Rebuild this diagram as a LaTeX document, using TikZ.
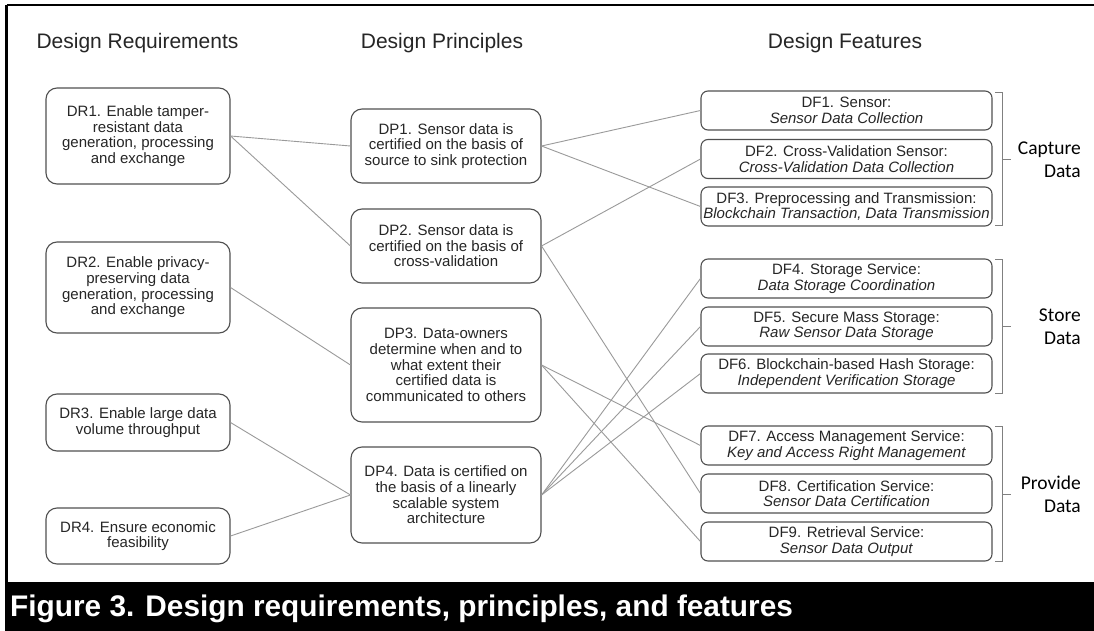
\documentclass[tikz,border=0pt]{standalone}
\usepackage{fontspec}
\setmainfont{Liberation Sans}
\newfontfamily\carlitofont{Carlito}
\definecolor{boxgray}{HTML}{505050}
\definecolor{linegray}{HTML}{9A9A9A}
\definecolor{txtcol}{HTML}{262626}
\newcommand{\boxfont}{\fontsize{15}{15.6}\selectfont}
\newcommand{\titlefont}{\fontsize{21}{24}\selectfont}
\newcommand{\capfont}{\fontsize{29.8}{32}\selectfont\bfseries}
\newcommand{\labfont}{\carlitofont\fontsize{19.5}{23}\selectfont}
\tikzset{
  rbox/.style={draw=boxgray, line width=1.1pt, rounded corners=11pt, align=center,
    font=\boxfont, text=txtcol, inner sep=0pt, minimum width=190pt},
  drbox/.style={rbox, minimum width=184pt},
  fbox/.style={draw=boxgray, line width=1.1pt, rounded corners=7pt, align=center,
    font=\boxfont, text=txtcol, inner sep=0pt, minimum width=291pt, minimum height=39pt},
  conn/.style={draw=linegray, line width=0.9pt},
  brk/.style={draw=gray, line width=0.8pt},
  ttl/.style={font=\titlefont, text=txtcol, anchor=base, inner sep=0pt},
  lab/.style={font=\labfont, text=black, align=right, anchor=east, inner sep=0pt}
}
\begin{document}
\begin{tikzpicture}[x=1pt,y=-1pt]
\useasboundingbox (0,0) rectangle (1094,631);
% frame and caption bar
\fill[white] (0,0) rectangle (1094,631);
\draw[line width=2.6pt] (6.5,5) -- (1100,5);
\draw[line width=3pt] (6.5,5) -- (6.5,583);
\fill[black] (5,582) rectangle (1100,640);
\node[anchor=base west, text=white, font=\capfont, inner sep=0pt] (cap) at (10,616)
  {Figure 3. Design requirements, principles, and features};
% titles
\node[ttl] (t1) at (137.5,49) {Design Requirements};
\node[ttl] (t2) at (442,49) {Design Principles};
\node[ttl] (t3) at (845,49) {Design Features};
% requirements
\node[drbox, minimum height=96pt] (dr1) at (138,136) {DR1. Enable tamper-\\resistant data\\generation, processing\\and exchange};
\node[drbox, minimum height=91pt] (dr2) at (138,287.5) {DR2. Enable privacy-\\preserving data\\generation, processing\\and exchange};
\node[drbox, minimum height=57pt] (dr3) at (138,422.5) {DR3. Enable large data\\volume throughput};
\node[drbox, minimum height=56pt] (dr4) at (138,536) {DR4. Ensure economic\\feasibility};
% principles
\node[rbox, minimum height=74pt] (dp1) at (446,146) {DP1. Sensor data is\\certified on the basis of\\source to sink protection};
\node[rbox, minimum height=74pt] (dp2) at (446,246) {DP2. Sensor data is\\certified on the basis of\\cross-validation};
\node[rbox, minimum height=114pt] (dp3) at (446,365) {DP3. Data-owners\\determine when and to\\what extent their\\certified data is\\communicated to others};
\node[rbox, minimum height=96pt] (dp4) at (446,495) {DP4. Data is certified on\\the basis of a linearly\\scalable system\\architecture};
% features
\node[fbox] (df1) at (846.5,110.5) {DF1. Sensor:\\\textit{Sensor Data Collection}};
\node[fbox] (df2) at (846.5,159) {DF2. Cross-Validation Sensor:\\\textit{Cross-Validation Data Collection}};
\node[fbox] (df3) at (846.5,206.5) {DF3. Preprocessing and Transmission:\\\textit{Blockchain Transaction, Data Transmission}};
\node[fbox] (df4) at (846.5,278.5) {DF4. Storage Service:\\\textit{Data Storage Coordination}};
\node[fbox] (df5) at (846.5,326.5) {DF5. Secure Mass Storage:\\\textit{Raw Sensor Data Storage}};
\node[fbox] (df6) at (846.5,373.5) {DF6. Blockchain-based Hash Storage:\\\textit{Independent Verification Storage}};
\node[fbox] (df7) at (846.5,445.5) {DF7. Access Management Service:\\\textit{Key and Access Right Management}};
\node[fbox] (df8) at (846.5,493.5) {DF8. Certification Service:\\\textit{Sensor Data Certification}};
\node[fbox] (df9) at (846.5,541.5) {DF9. Retrieval Service:\\\textit{Sensor Data Output}};
% connectors
\draw[conn] (dr1.east) -- (dp1.west);
\draw[conn] (dr1.east) -- (dp2.west);
\draw[conn] (dr2.east) -- (dp3.west);
\draw[conn] (dr3.east) -- (dp4.west);
\draw[conn] (dr4.east) -- (dp4.west);
\draw[conn] (dp1.east) -- (df1.west);
\draw[conn] (dp1.east) -- (df3.west);
\draw[conn] (dp2.east) -- (df2.west);
\draw[conn] (dp2.east) -- (df8.west);
\draw[conn] (dp3.east) -- (df7.west);
\draw[conn] (dp3.east) -- (df9.west);
\draw[conn] (dp4.east) -- (df4.west);
\draw[conn] (dp4.east) -- (df5.west);
\draw[conn] (dp4.east) -- (df6.west);
% brackets
\draw[brk] (995,92) -- (1002,92) -- (1002,225) -- (995,225);
\draw[brk] (1002,159) -- (1011,159);
\draw[brk] (995,259) -- (1002,259) -- (1002,393) -- (995,393);
\draw[brk] (1002,326) -- (1011,326);
\draw[brk] (995,426) -- (1002,426) -- (1002,561) -- (995,561);
\draw[brk] (1002,494) -- (1011,494);
\node[lab] (l1) at (1081,160) {Capture\\Data};
\node[lab] (l2) at (1081,327) {Store\\Data};
\node[lab] (l3) at (1081,494) {Provide\\Data};
\end{tikzpicture}
\end{document}
